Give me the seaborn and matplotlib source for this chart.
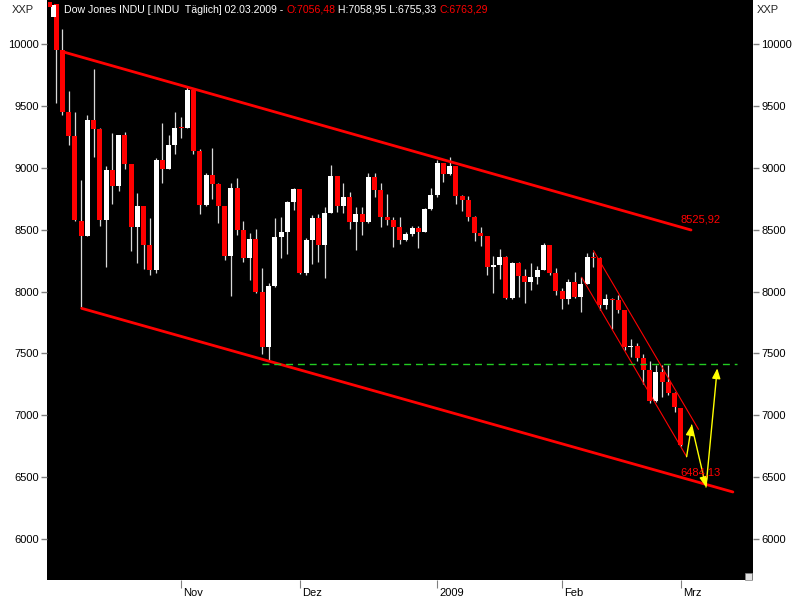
import numpy as np
import matplotlib
matplotlib.use("Agg")
import matplotlib.pyplot as plt
from matplotlib.patches import Rectangle
import seaborn as sns

# Dow Jones INDU, daily candles 06.10.2008 - 02.03.2009
opens = [10322, 9955, 9447, 9258, 8568, 8452, 9387, 9310, 8577, 8979,
         8852, 9265, 9034, 8519, 8691, 8378, 8175, 9065, 8991, 9180,
         9325, 9319, 9625, 9139, 8695, 8943, 8870, 8694, 8283, 8835,
         8497, 8273, 8425, 7997, 7552, 8046, 8443, 8479, 8727,
         8829, 8149, 8419, 8591, 8376, 8635, 8934, 8691, 8761, 8565,
         8629, 8564, 8924, 8824, 8604, 8579, 8519, 8419, 8468, 8515, 8483, 8668,
         8776, 9035, 8953, 9015, 8769, 8742, 8599, 8474, 8448, 8200,
         8212, 8281, 7949, 8228, 8123, 8077, 8116, 8175, 8375, 8149,
         8001, 7936, 8078, 7957, 8063, 8280, 8270, 7889, 7939, 7933,
         7850, 7553, 7556, 7466, 7366, 7115, 7351, 7270, 7183,
         7056]
highs = [10322, 10121, 9620, 9448, 8901, 9427, 9794, 9320, 9014, 9283,
         9265, 9287, 9034, 8796, 8691, 8594, 9081, 9364, 9265, 9450,
         9410, 9653, 9625, 9150, 8960, 9160, 8880, 8694, 8877, 8917,
         8570, 8473, 8505, 8190, 8070, 8594, 8602, 8730, 8840,
         8830, 8432, 8618, 8625, 8683, 9022, 8934, 8877, 8804, 8683,
         8680, 8958, 8958, 8877, 8788, 8604, 8602, 8478, 8530, 8530, 8675, 8836,
         9065, 9040, 9088, 9015, 8780, 8775, 8610, 8521, 8450, 8287,
         8343, 8290, 8240, 8240, 8182, 8230, 8210, 8395, 8375, 8192,
         8030, 8103, 8157, 8120, 8313, 8320, 8280, 7980, 7945, 7974,
         7850, 7616, 7580, 7495, 7438, 7406, 7406, 7410, 7190,
         7059]
lows = [9525, 9430, 9184, 8570, 7877, 8452, 9085, 8530, 8197, 8707,
        8810, 8990, 8331, 8233, 8181, 8134, 8150, 8879, 8990, 9112,
        9243, 9319, 9108, 8629, 8690, 8750, 8556, 8257, 7965, 8460,
        8241, 8095, 7990, 7495, 7449, 8040, 8273, 8306, 8659,
        8141, 8130, 8222, 8240, 8109, 8635, 8642, 8634, 8505, 8335,
        8457, 8550, 8764, 8521, 8537, 8360, 8384, 8410, 8450, 8351, 8480, 8660,
        8760, 8885, 8940, 8707, 8650, 8570, 8408, 8368, 8133, 7988,
        8101, 7940, 7940, 7956, 7905, 8012, 8060, 8170, 8130, 7970,
        7861, 7900, 7945, 7838, 8060, 8200, 7850, 7860, 7697, 7830,
        7530, 7471, 7440, 7250, 7100, 7105, 7147, 7160, 7026,
        6755]
closes = [9955, 9447, 9258, 8579, 8451, 9387, 9310, 8577, 8979, 8852,
          9265, 9034, 8519, 8691, 8378, 8175, 9065, 8991, 9180, 9325,
          9319, 9625, 9139, 8695, 8943, 8870, 8694, 8283, 8835, 8497,
          8273, 8425, 7997, 7552, 8046, 8443, 8479, 8727, 8829,
          8149, 8419, 8591, 8376, 8635, 8934, 8691, 8761, 8565, 8629,
          8564, 8924, 8824, 8604, 8579, 8519, 8419, 8468, 8515, 8483, 8668, 8776,
          9035, 8953, 9015, 8769, 8742, 8599, 8474, 8448, 8200, 8212,
          8281, 7949, 8228, 8123, 8077, 8116, 8175, 8375, 8149, 8001,
          7936, 8078, 7957, 8063, 8280, 8270, 7889, 7939, 7933, 7850,
          7553, 7556, 7466, 7366, 7115, 7351, 7270, 7183, 7063,
          6763]

month_ticks = [20, 39, 61, 81, 100]
month_labels = ["Nov", "Dez", "2009", "Feb", "Mrz"]
price_ticks = [6000, 6500, 7000, 7500, 8000, 8500, 9000, 9500, 10000]

# drawn lines (candle index, price)
upper_trend_x, upper_trend_y = [0.9, 101.6], [9940, 8497]
lower_trend_x, lower_trend_y = [4.1, 108.3], [7864, 6380]
chan_top_x, chan_top_y = [86.0, 102.8], [8330, 6886]
chan_bot_x, chan_bot_y = [84.1, 100.9], [8115, 6665]
support_x, support_y = [33.0, 109.0], [7412, 7412]
arrow_x = [100.9, 101.7, 104.0, 105.8]
arrow_y = [6665, 6920, 6420, 7379]
level_labels = ["8525,92", "6484,13"]
level_label_x = [103.2, 103.2]
level_label_y = [8578, 6541]

sns.set_style("white")
plt.rcParams['font.family'] = ['Liberation Sans', 'DejaVu Sans']

fig = plt.figure(figsize=(8, 6), dpi=100)
fig.patch.set_facecolor("white")
ax = fig.add_axes([47 / 800, 20 / 600, 706 / 800, 580 / 600])
ax.set_facecolor("black")

idx = np.arange(len(closes))
o, h, l, c = map(np.array, (opens, highs, lows, closes))
up = c >= o
body_lo = np.minimum(o, c)
body_h = np.maximum(np.abs(c - o), 10)

# dochte zuerst, dann kerzenkoerper
ax.vlines(idx, l, h, colors="#d8d8d8", lw=0.9, zorder=2)
ax.bar(idx, body_h, bottom=body_lo, width=0.8,
       color=np.where(up, "white", "#ff0000"), linewidth=0, zorder=3)

sns.lineplot(x=upper_trend_x, y=upper_trend_y, color="#ff0000", lw=2, ax=ax, zorder=4)
sns.lineplot(x=lower_trend_x, y=lower_trend_y, color="#ff0000", lw=2, ax=ax, zorder=4)
sns.lineplot(x=chan_top_x, y=chan_top_y, color="#ff0000", lw=0.8, ax=ax, zorder=4)
sns.lineplot(x=chan_bot_x, y=chan_bot_y, color="#ff0000", lw=0.8, ax=ax, zorder=4)
ax.plot(support_x, support_y, color="#22cc22", lw=1, dashes=(5, 3.5), zorder=4)

for i in range(len(arrow_x) - 1):
    ax.annotate("", xy=(arrow_x[i + 1], arrow_y[i + 1]), xytext=(arrow_x[i], arrow_y[i]),
                arrowprops=dict(arrowstyle="-|>,head_length=0.6,head_width=0.25",
                                color="#ffff00", lw=1, shrinkA=0, shrinkB=0), zorder=5)

for txt, lx, ly in zip(level_labels, level_label_x, level_label_y):
    ax.text(lx, ly, txt, color="#ff0000", fontsize=8, ha="center", va="center", zorder=6)

ax.set_xlim(-1.44, 111.52)
ax.set_ylim(5668.7, 10355.6)

ax.set_yticks(price_ticks)
ax.set_yticklabels([str(t) for t in price_ticks])
ax.tick_params(axis="y", which="both", left=True, right=True, labelleft=True, labelright=True,
               direction="out", length=4, width=1, color="#808080", pad=2, labelsize=8,
               labelcolor="black")

ax.set_xticks(month_ticks)
ax.set_xticklabels(month_labels)
ax.tick_params(axis="x", bottom=True, direction="out", length=6, width=0.8, color="#808080",
               pad=0, labelsize=8, labelcolor="black")
offset = matplotlib.transforms.ScaledTranslation(2 / 100, 0, fig.dpi_scale_trans)
for lbl in ax.get_xticklabels():
    lbl.set_horizontalalignment("left")
    lbl.set_transform(lbl.get_transform() + offset)

for s in ax.spines.values():
    s.set_visible(False)
ax.set_xlabel("")
ax.set_ylabel("")
if ax.get_legend():
    ax.get_legend().remove()

# kopfzeile
fig.text(12 / 800, 1 - 10 / 600, "XXP", fontsize=8, va="center", ha="left")
fig.text(757 / 800, 1 - 10 / 600, "XXP", fontsize=8, va="center", ha="left")
fig.patches.append(Rectangle((51 / 800, 1 - 17 / 600), 5 / 800, 12 / 600, facecolor="white",
                             edgecolor="none", transform=fig.transFigure, figure=fig))
fig.patches.append(Rectangle((48 / 800, 1 - 7 / 600), 4 / 800, 5 / 600, facecolor="#ff0000",
                             edgecolor="none", transform=fig.transFigure, figure=fig))
fig.patches.append(Rectangle((745 / 800, 1 - 580 / 600), 7 / 800, 7 / 600, facecolor="#e0e0e0",
                             edgecolor="#808080", lw=0.5, transform=fig.transFigure, figure=fig))

parts = [("Dow Jones INDU [.INDU  Täglich] 02.03.2009 - ", "white"),
         ("O:7056,48", "#ff0000"),
         (" H:7058,95 L:6755,33 ", "white"),
         ("C:6763,29", "#ff0000")]
t = fig.text(64 / 800, 1 - 10 / 600, parts[0][0], color=parts[0][1], fontsize=7.6,
             va="center", ha="left")
for txt, col in parts[1:]:
    t = ax.annotate(txt, xy=(1, 0.5), xycoords=t, va="center", ha="left",
                    color=col, fontsize=7.6, annotation_clip=False)

fig.savefig("out.png", dpi=100, facecolor="white")
